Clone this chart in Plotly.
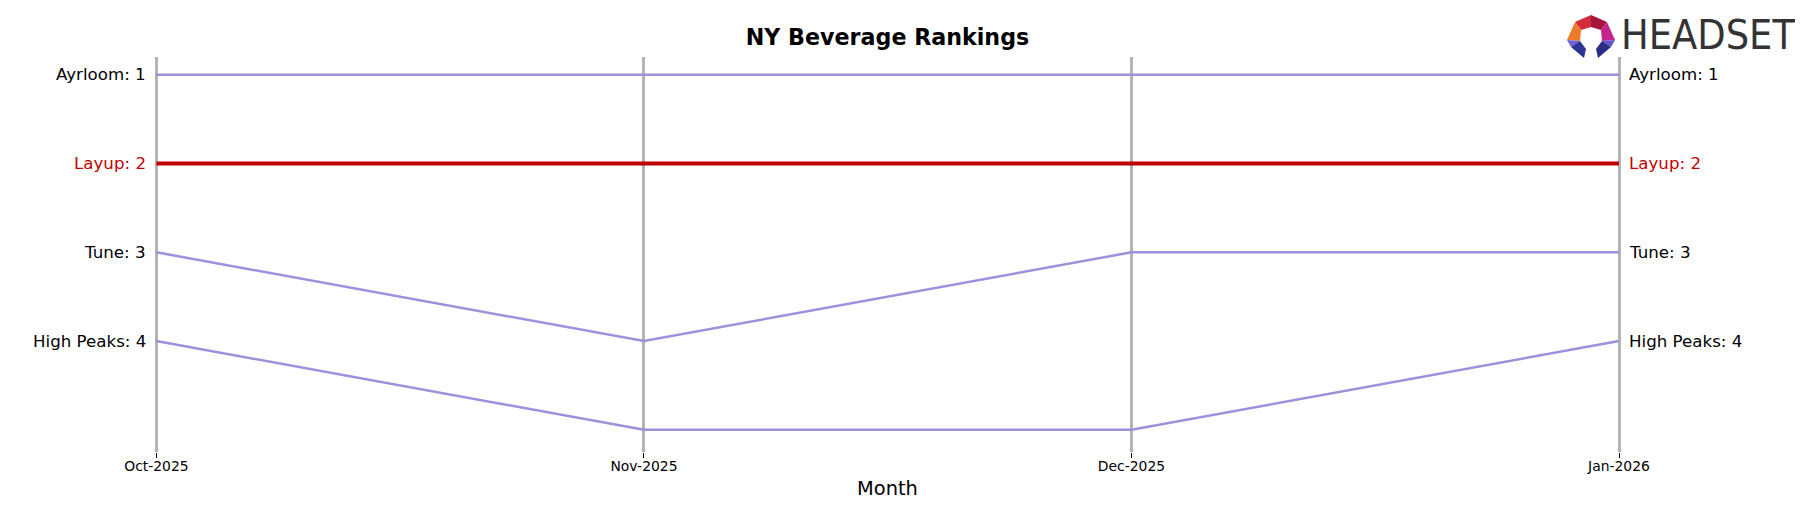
import plotly.graph_objects as go

# ---------------- data ----------------
months = ["Oct-2025", "Nov-2025", "Dec-2025", "Jan-2026"]
brands = ["Ayrloom", "Layup", "Tune", "High Peaks"]
ranks_ayrloom = [1, 1, 1, 1]
ranks_layup = [2, 2, 2, 2]
ranks_tune = [3, 4, 3, 3]
ranks_high_peaks = [4, 5, 5, 4]
highlight_brand = "Layup"
chart_title = "NY Beverage Rankings"
x_title = "Month"

series = {
    "Ayrloom": ranks_ayrloom,
    "Layup": ranks_layup,
    "Tune": ranks_tune,
    "High Peaks": ranks_high_peaks,
}

# ---------------- style ----------------
OFF = 8  # page body margin
W, H = 1803, 507
PW, PH = 1475, 395
ML = 150 - OFF
MT = 57 - OFF
MR = W - ML - PW
MB = H - MT - PH
X0_PX, X3_PX = 156.4, 1619.0   # page pixel positions of first/last month
px_per = (X3_PX - X0_PX) / 3
xr0 = -(X0_PX - 150) / px_per
xr1 = xr0 + PW / px_per

PURPLE = "#9d90dc"
RED = "#bf0000"
GRID = "#b3b3b3"
FONT = "DejaVu Sans, Verdana, sans-serif"

xs = list(range(len(months)))

fig = go.Figure()
order = [b for b in brands if b != highlight_brand] + [highlight_brand]
for b in order:
    hl = b == highlight_brand
    fig.add_trace(go.Scatter(
        x=xs, y=series[b], mode="lines", name=b,
        line=dict(color=RED if hl else PURPLE, width=4 if hl else 2.5),
        showlegend=False, hoverinfo="skip",
    ))

annotations = []
for b in brands:
    hl = b == highlight_brand
    col = RED if hl else "#000000"
    r0 = series[b][0]
    r1 = series[b][-1]
    annotations.append(dict(
        x=xs[0], y=r0, xref="x", yref="y", text=f"{b}: {r0}",
        showarrow=False, xanchor="right", yanchor="middle", xshift=-8,
        font=dict(family=FONT, size=16.67, color=col)))
    annotations.append(dict(
        x=xs[-1], y=r1, xref="x", yref="y", text=f"{b}: {r1}",
        showarrow=False, xanchor="left", yanchor="middle", xshift=8,
        font=dict(family=FONT, size=16.67, color=col)))


def px_x(px):
    return (px - OFF - ML) / PW


def px_y(py):
    return 1 - (py - OFF - MT) / PH


# logo text
annotations.append(dict(
    x=px_x(1619), y=px_y(35.5), xref="paper", yref="paper", text="HEADSET",
    showarrow=False, xanchor="left", yanchor="middle",
    font=dict(family="Liberation Sans Narrow, DejaVu Sans Condensed, Roboto, sans-serif",
              size=41, color="#333333")))

# logo icon polygons (page pixel coords)
left_polys = [
    ([(1591, 15), (1575, 22), (1581, 30), (1591, 27)], "#d42a3a"),
    ([(1575, 22), (1567, 40), (1580, 41), (1581, 30)], "#f07a2c"),
    ([(1567, 40), (1580, 41), (1571, 47)], "#6b63d8"),
    ([(1571, 47), (1580, 41), (1586, 49), (1584, 58)], "#2d3592"),
]
right_cols = ["#a5163d", "#c6248c", "#5e54cc", "#2a2f85"]
CX2 = 3182
shapes = []
polys = []
for (pts, c), rc in zip(left_polys, right_cols):
    polys.append((pts, c))
    polys.append(([(CX2 - x, y) for x, y in pts], rc))
for pts, c in polys:
    path = "M " + " L ".join(f"{px_x(x):.5f},{px_y(y):.5f}" for x, y in pts) + " Z"
    shapes.append(dict(type="path", xref="paper", yref="paper", path=path,
                       fillcolor=c, line=dict(width=0), layer="above"))

fig.update_layout(
    width=W, height=H,
    margin=dict(l=ML, r=MR, t=MT, b=MB),
    paper_bgcolor="white", plot_bgcolor="white",
    title=dict(text=f"<b>{chart_title}</b>", x=0.5, xref="paper",
               y=1 - (37 - OFF) / H, yref="container", xanchor="center", yanchor="middle",
               font=dict(family=FONT, size=22.2, color="#000000")),
    xaxis=dict(range=[xr0, xr1], tickvals=xs, ticktext=months,
               showgrid=True, gridcolor=GRID, gridwidth=3,
               zeroline=False, showline=False,
               ticks="outside", ticklen=5, tickwidth=1, tickcolor="#000000",
               ticklabelstandoff=-4,
               tickfont=dict(family=FONT, size=13.9, color="#000000"),
               title=dict(text=x_title, standoff=8,
                          font=dict(family=FONT, size=19.4, color="#000000"))),
    yaxis=dict(range=[5.25, 0.8], showgrid=False, zeroline=False,
               showticklabels=False, ticks="", showline=False),
    annotations=annotations,
    shapes=shapes,
)

fig.write_html("out.html")
